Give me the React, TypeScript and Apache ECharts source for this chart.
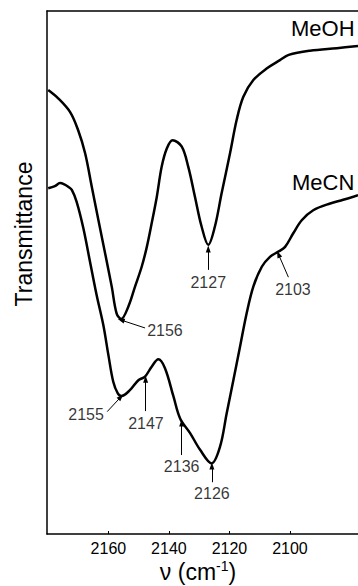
import React, { useEffect, useRef } from "react";
import * as echarts from "echarts";

// MeOH spectrum (wavenumber, transmittance in arbitrary units 0-100)
const meohNu = [2179.9, 2176.6, 2172.7, 2170.0, 2167.7, 2165.5, 2163.3, 2161.1, 2158.9, 2157.3, 2155.8, 2153.4, 2151.2, 2149.0, 2147.3, 2145.7, 2144.0, 2142.4, 2140.7, 2138.8, 2135.8, 2133.6, 2131.4, 2129.2, 2127.0, 2124.8, 2122.6, 2119.8, 2117.6, 2115.4, 2112.1, 2107.7, 2103.3, 2100.4, 2093.4, 2084.5, 2077.5];
const meohT = [84.9, 83.3, 80.7, 77.2, 72.8, 66.4, 60.0, 53.7, 47.3, 42.2, 41.1, 43.5, 47.3, 51.1, 54.9, 59.4, 64.5, 70.2, 73.7, 75.3, 74.1, 70.2, 64.5, 58.8, 55.3, 58.8, 65.1, 72.8, 79.2, 83.6, 86.8, 89.0, 90.6, 91.6, 92.4, 92.9, 93.3];

// MeCN spectrum
const mecnNu = [2179.9, 2177.7, 2176.0, 2174.4, 2173.3, 2172.1, 2170.5, 2168.3, 2166.1, 2163.9, 2161.7, 2160.0, 2158.4, 2156.9, 2155.6, 2152.9, 2150.1, 2147.9, 2145.7, 2143.5, 2141.3, 2138.5, 2136.3, 2133.0, 2129.7, 2125.9, 2123.1, 2120.9, 2118.7, 2116.5, 2114.3, 2112.1, 2109.3, 2106.6, 2103.8, 2101.6, 2098.9, 2096.1, 2092.3, 2086.7, 2082.4, 2077.5];
const mecnT = [66.1, 66.5, 67.1, 66.8, 66.4, 65.8, 63.5, 58.5, 52.1, 45.7, 40.0, 34.2, 29.1, 26.9, 26.4, 27.5, 29.4, 30.1, 32.0, 33.4, 31.7, 26.3, 22.1, 19.3, 16.1, 13.5, 16.7, 23.1, 29.4, 35.8, 42.2, 47.3, 51.1, 53.0, 54.0, 54.9, 57.5, 60.0, 61.9, 63.2, 63.9, 64.8];

// x tick labels
const xTicks = [2160, 2140, 2120, 2100];

// peak annotations
const annLabels = ["2156", "2127", "2103", "2155", "2147", "2136", "2126"];
const annTipNu = [2155.8, 2127.0, 2103.8, 2155.9, 2147.7, 2135.8, 2125.8];
const annTipT = [40.9, 54.5, 53.5, 26.2, 29.6, 21.2, 13.0];
const annTailNu = [2147.9, 2127.0, 2100.5, 2160.4, 2147.7, 2135.8, 2125.8];
const annTailT = [39.4, 50.5, 49.1, 23.4, 23.5, 15.1, 9.9];
const annTextNu = [2147.2, 2127.0, 2099.0, 2161.5, 2147.6, 2135.8, 2125.8];
const annTextT = [39.0, 48.0, 46.7, 22.8, 21.2, 13.0, 7.8];
const annAlign = ["left", "center", "center", "right", "center", "center", "center"];

const FONT = "'Liberation Sans', Arial, Helvetica, sans-serif";

export default function App() {
  const ref = useRef<HTMLDivElement>(null);
  useEffect(() => {
    if (!ref.current) return;
    const chart = echarts.init(ref.current, null, { renderer: "svg" });
    const zip = (a: number[], b: number[]) => a.map((v, i) => [v, b[i]]);
    const axisLineStyle = { color: "#000", width: 1.5 };
    chart.setOption({
      animation: false,
      grid: {
        left: 47,
        top: 11,
        right: 0,
        bottom: 52,
      },
      xAxis: [
        {
          type: "value",
          inverse: true,
          min: 2077.5,
          max: 2180.3,
          axisLine: { show: true, lineStyle: axisLineStyle },
          axisTick: {
            show: true,
            inside: true,
            length: 3,
            customValues: xTicks,
            lineStyle: { color: "#000", width: 1 },
          },
          axisLabel: {
            customValues: xTicks,
            formatter: (v: number) => String(v),
            fontSize: 16,
            fontFamily: FONT,
            color: "#000",
            margin: 6,
          },
          splitLine: { show: false },
        },
        {
          type: "value",
          position: "top",
          inverse: true,
          min: 2077.5,
          max: 2180.3,
          axisLine: { show: true, lineStyle: axisLineStyle },
          axisTick: { show: false },
          axisLabel: { show: false },
          splitLine: { show: false },
        },
      ],
      yAxis: {
        type: "value",
        min: 0,
        max: 100,
        axisLine: { show: true, lineStyle: axisLineStyle },
        axisTick: { show: false },
        axisLabel: { show: false },
        splitLine: { show: false },
      },
      series: [
        {
          name: "MeOH",
          type: "line",
          data: zip(meohNu, meohT),
          showSymbol: false,
          smooth: 0.35,
          lineStyle: { color: "#000", width: 2.5 },
        },
        {
          name: "MeCN",
          type: "line",
          data: zip(mecnNu, mecnT),
          showSymbol: false,
          smooth: 0.35,
          lineStyle: { color: "#000", width: 2.5 },
        },
        {
          name: "peaks",
          type: "scatter",
          symbolSize: 0,
          itemStyle: { color: "#000" },
          data: annLabels.map((l, i) => ({
            name: l,
            value: [annTextNu[i], annTextT[i]],
            label: { align: annAlign[i], color: "#000" },
          })),
          label: {
            show: true,
            position: "inside",
            formatter: "{b}",
            fontSize: 16,
            fontFamily: FONT,
            color: "#000",
            textBorderWidth: 0,
          },
          markLine: {
            silent: true,
            symbol: ["none", "triangle"],
            symbolSize: [5, 7],
            lineStyle: { color: "#000", width: 1, type: "solid" },
            label: { show: false },
            data: annLabels.map((_, i) => [
              { coord: [annTailNu[i], annTailT[i]] },
              { coord: [annTipNu[i], annTipT[i]] },
            ]),
          },
        },
      ],
      graphic: [
        {
          type: "text",
          x: 291,
          y: 28,
          style: { text: "MeOH", fontSize: 22, fontFamily: FONT, fill: "#000", verticalAlign: "middle" },
        },
        {
          type: "text",
          x: 292,
          y: 182,
          style: { text: "MeCN", fontSize: 22, fontFamily: FONT, fill: "#000", verticalAlign: "middle" },
        },
        {
          type: "text",
          x: 24,
          y: 234,
          rotation: Math.PI / 2,
          style: {
            text: "Transmittance",
            fontSize: 23,
            fontFamily: FONT,
            fill: "#000",
            align: "center",
            verticalAlign: "middle",
          },
        },
        {
          type: "text",
          x: 198,
          y: 572,
          style: {
            text: "{a|ν (cm}{b|-1}{a|)}",
            fill: "#000",
            align: "center",
            verticalAlign: "middle",
            rich: {
              a: { fontSize: 23, fontFamily: FONT, fill: "#000" },
              b: { fontSize: 14, fontFamily: FONT, fill: "#000", padding: [0, 0, 12, 0] },
            },
          },
        },
      ],
    });
    return () => chart.dispose();
  }, []);
  return (
    <div
      ref={ref}
      style={{ position: "absolute", left: 0, top: 0, width: 358, height: 586 }}
    />
  );
}
